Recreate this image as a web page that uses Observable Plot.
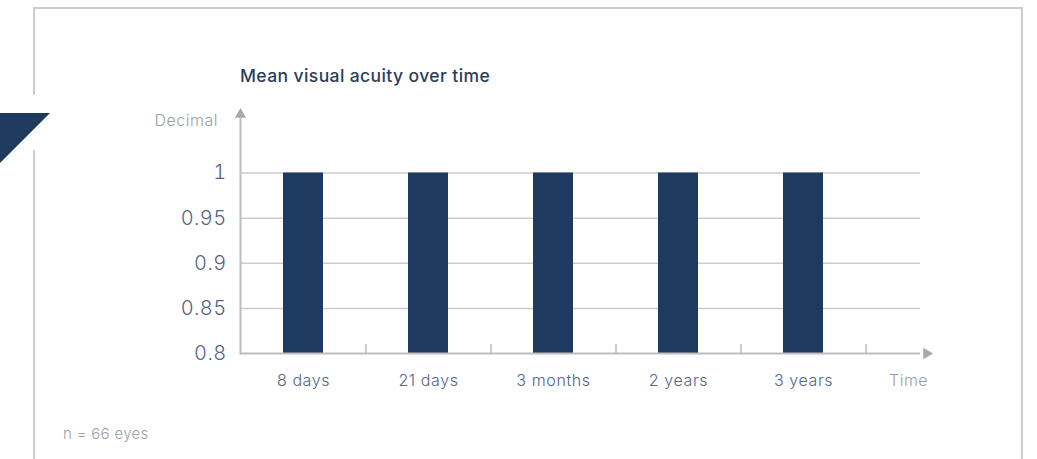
<!DOCTYPE html>
<html>
<head>
<meta charset="utf-8">
<script src="https://cdn.jsdelivr.net/npm/d3@7"></script>
<script src="https://cdn.jsdelivr.net/npm/@observablehq/plot@0.6"></script>
<style>
  html, body { margin: 0; padding: 0; background: #fff; }
  #wrap { position: relative; width: 1037px; height: 459px; overflow: hidden; font-family: Inter, "Open Sans", sans-serif; }
  #chart { position: absolute; left: 0; top: 0; }
  .box { position: absolute; left: 33px; top: 7px; width: 986px; height: 470px; border: 2px solid #cdcdcd; border-bottom: none; }
  .gap { position: absolute; left: 30px; top: 95px; width: 8px; height: 55px; background: #fff; }
  .tri { position: absolute; left: 0; top: 0; }
  .title { position: absolute; left: 240px; top: 65px; font-size: 17.5px; font-weight: 500; color: #2b3e5e; white-space: nowrap; letter-spacing: 0.4px; }
  .ylab { position: absolute; right: calc(1037px - 218px); top: 110px; font-size: 16px; font-weight: 300; color: #a0a0a0; letter-spacing: 0.5px; }
  .xlab { position: absolute; left: 889px; top: 370px; font-size: 16px; font-weight: 300; color: #a0a0a0; letter-spacing: 0.5px; }
  .note { position: absolute; left: 63px; top: 424px; font-size: 15px; font-weight: 300; color: #a0a0a0; letter-spacing: 0.3px; }
</style>
</head>
<body>
<div id="wrap">
  <div class="box"></div>
  <div class="gap"></div>
  <svg class="tri" width="60" height="180"><polygon points="0,113 50,113 0,163" fill="#1f3a5f"/></svg>
  <div id="chart"></div>
  <div class="title">Mean visual acuity over time</div>
  <div class="ylab">Decimal</div>
  <div class="xlab">Time</div>
  <div class="note">n = 66 eyes</div>
</div>
<script>
const periods = ["8 days", "21 days", "3 months", "2 years", "3 years"];
const meanAcuity = [1, 1, 1, 1, 1];
const yTicks = [0.8, 0.85, 0.9, 0.95, 1];
const yTickLabels = ["0.8", "0.85", "0.9", "0.95", "1"];

const data = periods.map((p, i) => ({period: p, value: meanAcuity[i]}));
const barColor = "#1f3a5f";
const gridColor = "#cccccc";
const axisColor = "#bdbdbd";
const arrowColor = "#a9a9a9";
const labelColor = "#54648a";

const chart = Plot.plot({
  width: 1037,
  height: 459,
  marginLeft: 240,
  marginRight: 117,
  marginTop: 118,
  marginBottom: 106,
  style: {fontFamily: "Inter, 'Open Sans', sans-serif", background: "transparent", color: labelColor, overflow: "visible"},
  x: {domain: periods, range: [240, 865], paddingInner: 0.68, paddingOuter: 0.34, label: null},
  y: {domain: [0.8, 1], range: [353, 172.5], clamp: true, label: null},
  marks: [
    Plot.ruleY(yTicks.slice(1), {stroke: gridColor, strokeWidth: 1.5}),
    Plot.barY(data, {x: "period", y: "value", fill: barColor}),
    Plot.ruleY([yTicks[0]], {stroke: axisColor, strokeWidth: 2}),
    Plot.frame({anchor: "left", stroke: axisColor, strokeWidth: 2}),
    Plot.ruleX(periods, {x: d => d, y1: yTicks[0], y2: yTicks[0], insetTop: -9, dx: 62.5, stroke: axisColor, strokeWidth: 1.5}),
    Plot.dot([0], {frameAnchor: "top-left", symbol: "triangle", r: 4.2, fill: arrowColor, stroke: "none", dy: -4}),
    Plot.dot([0], {frameAnchor: "bottom-right", symbol: "triangle", r: 4.2, rotate: 90, fill: arrowColor, stroke: "none", dx: 6}),
    Plot.axisY(yTicks, {tickSize: 0, tickPadding: 14, fontSize: 20, fontWeight: 300, fill: labelColor, tickFormat: (d) => yTickLabels[yTicks.indexOf(d)], label: null}),
    Plot.axisX({tickSize: 0, tickPadding: 21, fontSize: 16, fontWeight: 300, fill: labelColor, label: null})
  ]
});
chart.querySelectorAll("[aria-label='y-axis tick label'] text").forEach(t => t.setAttribute("letter-spacing", "0.4"));
chart.querySelectorAll("[aria-label='x-axis tick label'] text").forEach(t => t.setAttribute("letter-spacing", "0.6"));
document.getElementById("chart").appendChild(chart);
</script>
</body>
</html>
